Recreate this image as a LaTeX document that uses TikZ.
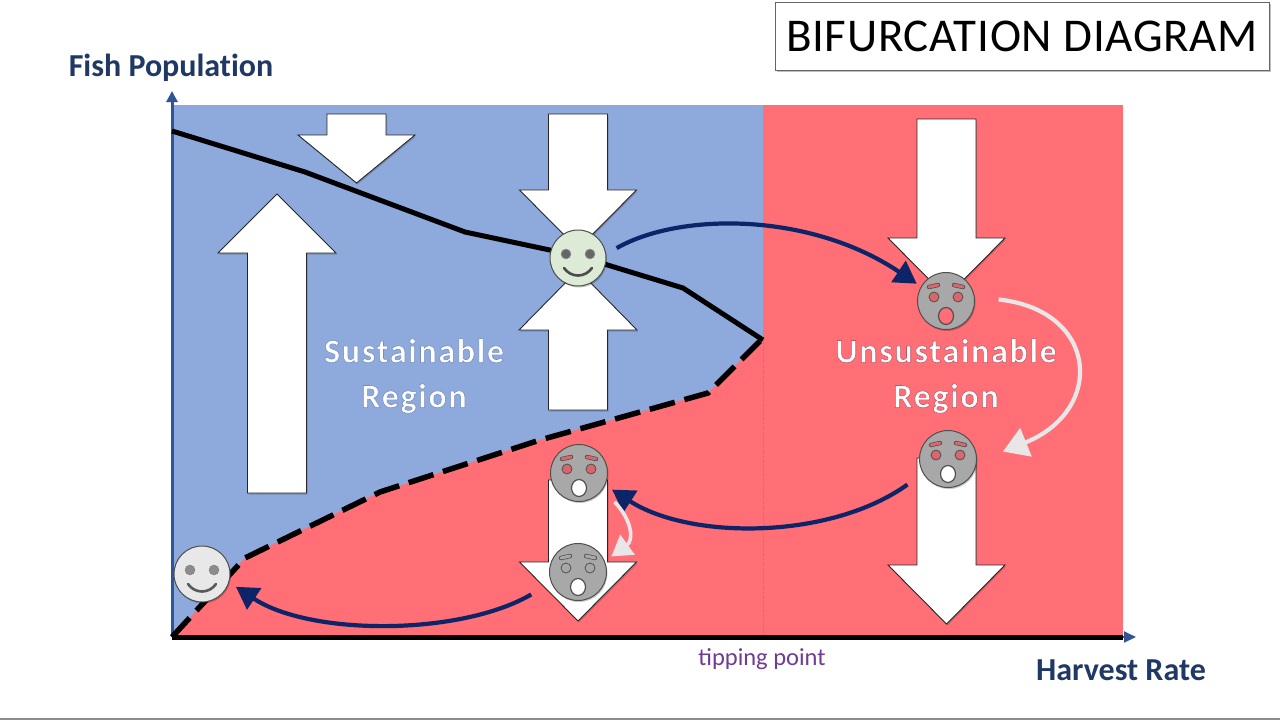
\documentclass[tikz,border=0pt]{standalone}
\usepackage{fontspec}
\setmainfont{Carlito}
\newfontfamily\regionfont[LetterSpace=5]{Carlito Bold}
\newfontfamily\axisfont[Ligatures=NoCommon]{Carlito Bold}
\newfontfamily\titlefont[LetterSpace=1.5,Ligatures=NoCommon]{Carlito}
\usetikzlibrary{arrows.meta,shadows}
\definecolor{bluereg}{HTML}{8EA9DB}
\definecolor{redreg}{HTML}{FF6F75}
\definecolor{navyarrow}{HTML}{0E2468}
\definecolor{axisblue}{HTML}{2F5597}
\definecolor{labelnavy}{HTML}{1F3864}
\definecolor{tipviolet}{HTML}{6F3C96}
\definecolor{facegrey}{HTML}{A8A8A8}
\definecolor{faceedge}{HTML}{4F4F4F}
\definecolor{eyered}{HTML}{D9666B}
\definecolor{greenface}{HTML}{DDEAD6}
\definecolor{paleface}{HTML}{E8E8E8}
\definecolor{palearrow}{HTML}{E8E6E6}
\newcommand{\outlined}[2]{\special{pdf:code q 2 Tr 0.55 w #1 RG}#2\special{pdf:code Q}}
\tikzset{
  x=1pt,y=-1pt,
  blockarrow/.style={fill=white,draw=black!85,line width=.9pt,line join=miter,
    drop shadow={shadow xshift=1pt,shadow yshift=-1.5pt,opacity=.18,fill=black}},
  facebase/.style={circle,minimum size=#1,inner sep=0pt,draw=faceedge,line width=1pt,
    drop shadow={shadow xshift=1pt,shadow yshift=-1.5pt,opacity=.22,fill=black}},
  fishcurve/.style={black,line width=5pt},
  navyconn/.style={navyarrow,line width=4.2pt,-{Triangle[length=22pt,width=25pt]}},
  paleconn/.style={palearrow,line width=4.2pt,-{Triangle[length=25pt,width=30pt]}},
  axislabel/.style={font=\axisfont\fontsize{32}{34}\selectfont,text=labelnavy},
  regionlabel/.style={align=center,text=white,font=\regionfont\fontsize{34}{45}\selectfont},
}
% block arrows: x centre, y tail, y neck, y tip
\newcommand{\blockarrow}[4]{\draw[blockarrow] (#1-29.5,#2) -- (#1+29.5,#2) -- (#1+29.5,#3) -- (#1+58.5,#3) -- (#1,#4) -- (#1-58.5,#3) -- (#1-29.5,#3) -- cycle;}
% smiling face: name, x, y, fill, eye colour, mouth colour
\newcommand{\happyface}[6]{%
  \node[facebase=56pt,fill=#4] (#1) at (#2,#3) {};
  \fill[#5,draw=faceedge!70,line width=.8pt] (#2-12,#3-4) circle (4.8);
  \fill[#5,draw=faceedge!70,line width=.8pt] (#2+12,#3-4) circle (4.8);
  \draw[#6,line width=2.6pt,line cap=round] (#2-14,#3+10) .. controls (#2-7,#3+20) and (#2+7,#3+20) .. (#2+14,#3+10);
}
% shocked face: name, x, y, eye colour, mouth colour, brow colour
\newcommand{\shockface}[6]{%
  \node[facebase=57pt,fill=facegrey] (#1) at (#2,#3) {};
  \fill[#4,draw=faceedge,line width=.8pt] (#2-12,#3-4) circle (5);
  \fill[#4,draw=faceedge,line width=.8pt] (#2+12,#3-4) circle (5);
  \draw[faceedge,line width=4.4pt,line cap=round] (#2-17,#3-14) -- (#2-8,#3-16);
  \draw[faceedge,line width=4.4pt,line cap=round] (#2+8,#3-16) -- (#2+17,#3-14);
  \draw[#6,line width=3pt,line cap=round] (#2-17,#3-14) -- (#2-8,#3-16);
  \draw[#6,line width=3pt,line cap=round] (#2+8,#3-16) -- (#2+17,#3-14);
  \fill[#5,draw=faceedge,line width=1.2pt] (#2,#3+15) ellipse (7.5 and 8.5);
}
\begin{document}
\begin{tikzpicture}
\useasboundingbox (0,0) rectangle (1280,720);
\fill[white] (0,0) rectangle (1280,720);
\fill[black!45] (0,717.5) rectangle (1280,720);
% regions
\fill[bluereg] (172,105) rectangle (763,637);
\fill[redreg] (763,105) rectangle (1123,637);
\fill[redreg] (172,637) -- (245,558) -- (380,492) -- (540,440) -- (708,393) -- (763,338) -- (763,637) -- cycle;
\draw[tipviolet!70,line width=.7pt,densely dotted] (763,340) -- (763,637);
% axes
\draw[axisblue,line width=3pt,-{Triangle[length=11pt,width=11pt]}] (172,637) -- (172,91);
\draw[axisblue,line width=2pt,-{Triangle[length=12pt,width=11pt]}] (1100,637) -- (1136,637);
\draw[black,line width=5pt] (172,637) -- (1123,637);
% curves
\draw[fishcurve,line width=5.5pt,dash pattern=on 26pt off 10pt] (172,637) -- (245,558) -- (380,492) -- (540,440) -- (708,393) -- (763,338);
\draw[fishcurve] (172,131) -- (305,172) -- (465,232) -- (578,256) -- (683,288) -- (763,340);
% block arrows
\blockarrow{356.5}{114}{135}{183}
\draw[blockarrow] (247.5,493) -- (306.5,493) -- (306.5,253) -- (336,253) -- (277,194) -- (218,253) -- (247.5,253) -- cycle;
\blockarrow{578}{114}{190}{249}
\draw[blockarrow] (548.5,410) -- (607.5,410) -- (607.5,330) -- (637,330) -- (578,270) -- (519,330) -- (548.5,330) -- cycle;
\blockarrow{946.5}{119}{238}{297}
\blockarrow{946.5}{458}{565}{624}
\blockarrow{578}{480}{562}{621}
% faces
\happyface{steady}{578}{258}{greenface}{black!60}{black!70}
\happyface{recovered}{202}{574}{paleface}{black!45}{black!65}
\shockface{overtop}{946}{301}{eyered}{redreg}{eyered}
\shockface{overlow}{948}{459}{eyered}{white}{eyered}
\shockface{lowup}{579}{473}{eyered}{white}{eyered}
\shockface{lowdown}{578}{572}{facegrey}{white}{facegrey}
% connectors
\draw[navyconn,shorten <=12pt,shorten >=5pt] (steady.8) .. controls (680,212) and (810,212) .. (overtop.150);
\draw[navyconn,shorten <=19pt,shorten >=8pt] (overlow.210) .. controls (830,540) and (690,540) .. (lowup.-25);
\draw[navyconn,shorten <=23pt,shorten >=8pt] (lowdown.-158) .. controls (460,636) and (310,636) .. (recovered.-17);
\draw[paleconn,shorten <=24pt,shorten >=28pt] (overtop.8) .. controls (1098,310) and (1106,410) .. (overlow.-6);
\draw[paleconn,line width=3.6pt,-{Triangle[length=20pt,width=24pt]},shorten <=17pt,shorten >=8pt] (lowup.-35) .. controls (632,520) and (634,540) .. (lowdown.22);
% labels
\node[regionlabel] (sustain) at (414,376) {\outlined{0.45 0.55 0.75}{Sustainable}\\\outlined{0.45 0.55 0.75}{Region}};
\node[regionlabel] (unsustain) at (946,376) {\outlined{0.72 0.35 0.42}{Unsustainable}\\\outlined{0.72 0.35 0.42}{Region}};
\node[axislabel,anchor=center] (ylabel) at (171,67.5) {Fish Population};
\node[axislabel,anchor=center] (xlabel) at (1121,670.5) {Harvest Rate};
\node[text=tipviolet,font=\fontsize{24.5}{26}\selectfont] (tipping) at (762,659.5) {tipping point};
\node[draw=black!60,fill=white,line width=1pt,minimum width=494pt,minimum height=68pt,inner sep=0pt,
  font=\titlefont\fontsize{47}{49}\selectfont,drop shadow={shadow xshift=2pt,shadow yshift=-2pt,opacity=.25,fill=black}] (title) at (1022,36) {BIFURCATION DIAGRAM};
\end{tikzpicture}
\end{document}
